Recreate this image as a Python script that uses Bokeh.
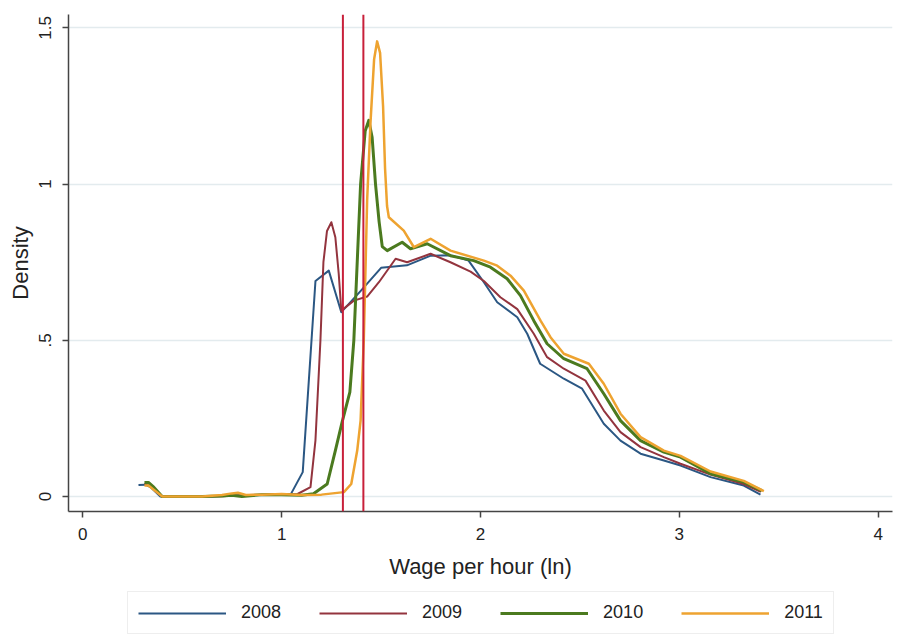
from bokeh.plotting import figure
from bokeh.models import Legend, LegendItem, Span, Range1d
from bokeh.layouts import column
from bokeh.embed import file_html
from bokeh.resources import INLINE

# ---- data ----
years = ["2008", "2009", "2010", "2011"]

x2008 = [0.28, 0.315, 0.34, 0.39, 0.5, 0.6, 0.7, 0.75, 0.8, 0.9, 1.0, 1.045, 1.106, 1.17, 1.237,
         1.30, 1.40, 1.50, 1.63, 1.75, 1.85, 1.94, 2.017, 2.084, 2.185, 2.235, 2.30, 2.419, 2.511,
         2.62, 2.704, 2.805, 2.922, 3.006, 3.157, 3.324, 3.408]
d2008 = [0.037, 0.038, 0.03, 0.0, 0.0, 0.0, 0.002, 0.005, 0.003, 0.005, 0.006, 0.006, 0.078, 0.69,
         0.723, 0.59, 0.66, 0.732, 0.74, 0.771, 0.772, 0.755, 0.686, 0.622, 0.574, 0.521, 0.425,
         0.377, 0.345, 0.233, 0.179, 0.137, 0.115, 0.099, 0.062, 0.035, 0.006]

x2009 = [0.31, 0.33, 0.36, 0.40, 0.5, 0.6, 0.7, 0.8, 0.9, 1.0, 1.08, 1.145, 1.17, 1.195, 1.21,
         1.228, 1.25, 1.27, 1.287, 1.30, 1.363, 1.43, 1.489, 1.573, 1.631, 1.749, 1.849, 1.95,
         2.017, 2.1, 2.185, 2.268, 2.335, 2.419, 2.528, 2.62, 2.704, 2.805, 2.922, 3.006, 3.157,
         3.324, 3.41]
d2009 = [0.04, 0.042, 0.025, 0.0, 0.0, 0.0, 0.001, 0.004, 0.006, 0.007, 0.008, 0.03, 0.18, 0.50,
         0.75, 0.85, 0.878, 0.83, 0.713, 0.595, 0.627, 0.64, 0.686, 0.761, 0.75, 0.777, 0.75,
         0.72, 0.69, 0.638, 0.6, 0.521, 0.446, 0.409, 0.371, 0.275, 0.206, 0.158, 0.126, 0.105,
         0.07, 0.04, 0.015]

x2010 = [0.31, 0.33, 0.357, 0.399, 0.5, 0.6, 0.7, 0.75, 0.8, 0.9, 1.0, 1.1, 1.16, 1.229, 1.27,
         1.304, 1.343, 1.363, 1.397, 1.42, 1.438, 1.455, 1.472, 1.49, 1.506, 1.531, 1.606, 1.648,
         1.732, 1.849, 1.966, 2.05, 2.134, 2.201, 2.268, 2.335, 2.419, 2.536, 2.62, 2.704, 2.805,
         2.922, 3.006, 3.157, 3.324, 3.415]
d2010 = [0.045, 0.045, 0.03, 0.0, 0.0, 0.0, 0.002, 0.004, 0.0, 0.006, 0.006, 0.004, 0.009, 0.04,
         0.147, 0.238, 0.334, 0.5, 1.0, 1.17, 1.204, 1.15, 1.0, 0.88, 0.8, 0.787, 0.814, 0.793,
         0.809, 0.771, 0.755, 0.734, 0.697, 0.643, 0.563, 0.489, 0.441, 0.409, 0.329, 0.243,
         0.179, 0.142, 0.126, 0.073, 0.046, 0.019]

x2011 = [0.31, 0.33, 0.36, 0.40, 0.5, 0.6, 0.7, 0.75, 0.78, 0.82, 0.9, 1.0, 1.1, 1.2, 1.313, 1.35,
         1.38, 1.397, 1.413, 1.43, 1.447, 1.465, 1.48, 1.495, 1.51, 1.52, 1.53, 1.539, 1.614,
         1.665, 1.749, 1.849, 2.017, 2.084, 2.151, 2.218, 2.302, 2.352, 2.419, 2.545, 2.62, 2.704,
         2.805, 2.922, 3.006, 3.157, 3.324, 3.425]
d2011 = [0.035, 0.035, 0.02, 0.0, 0.0, 0.0, 0.005, 0.01, 0.012, 0.005, 0.006, 0.008, 0.005, 0.006,
         0.014, 0.04, 0.147, 0.243, 0.5, 0.95, 1.2, 1.40, 1.457, 1.42, 1.25, 1.05, 0.93, 0.894,
         0.851, 0.798, 0.825, 0.787, 0.755, 0.739, 0.707, 0.659, 0.563, 0.51, 0.457, 0.425,
         0.361, 0.265, 0.19, 0.147, 0.13, 0.08, 0.05, 0.017]

min_wage_lines = [1.308, 1.411]

x_ticks = [0, 1, 2, 3, 4]
y_ticks = [0, 0.5, 1, 1.5]
y_tick_labels = ["0", ".5", "1", "1.5"]

colors = ["#2b5783", "#93343e", "#4b7a1f", "#eea330"]
widths = [2.0, 2.0, 3.0, 2.5]
series_x = [x2008, x2009, x2010, x2011]
series_y = [d2008, d2009, d2010, d2011]

FONT = "Liberation Sans"

p = figure(width=894, height=585, output_backend="svg", toolbar_location=None,
           x_range=Range1d(-0.072, 4.072), y_range=Range1d(-0.048, 1.543),
           min_border_left=68, min_border_right=2, min_border_top=14, min_border_bottom=74,
           background_fill_color="white", border_fill_color="white")
p.outline_line_color = None
p.xgrid.visible = False
p.ygrid.grid_line_color = "#e3ebee"
p.ygrid.grid_line_width = 1.5

for ax in (p.xaxis, p.yaxis):
    ax.axis_line_color = "#444444"
    ax.axis_line_width = 1.5
    ax.major_tick_line_color = "#444444"
    ax.major_tick_line_width = 1.5
    ax.major_tick_out = 6
    ax.major_tick_in = 0
    ax.minor_tick_line_color = None
    ax.major_label_text_font = FONT
    ax.major_label_text_font_size = "17px"
    ax.major_label_text_color = "#222222"
    ax.axis_label_text_font = FONT
    ax.axis_label_text_font_size = "22px"
    ax.axis_label_text_font_style = "normal"
    ax.axis_label_text_color = "#222222"

p.xaxis.ticker = x_ticks
p.xaxis.major_label_standoff = 10
p.xaxis.axis_label = "Wage per hour (ln)"
p.xaxis.axis_label_standoff = 11

p.yaxis.ticker = y_ticks
p.yaxis.major_label_overrides = {t: lab for t, lab in zip(y_ticks, y_tick_labels)}
p.yaxis.major_label_orientation = "vertical"
p.yaxis.major_label_standoff = 11
p.yaxis.axis_label = "Density"
p.yaxis.axis_label_standoff = 4

for xs, ys, c, w in zip(series_x, series_y, colors, widths):
    p.line(xs, ys, line_color=c, line_width=w, line_join="round")

for xv in min_wage_lines:
    p.add_layout(Span(location=xv, dimension="height", line_color="#c8203a", line_width=2))

# ---- legend strip below the plot (its lines lie outside this strip's visible range) ----
lg = figure(width=894, height=50, output_backend="svg", toolbar_location=None,
            x_axis_location=None, y_axis_location=None,
            x_range=Range1d(-0.072, 4.072), y_range=Range1d(10, 11),
            min_border_left=68, min_border_right=2, min_border_top=0, min_border_bottom=0,
            background_fill_color="white", border_fill_color="white")
lg.outline_line_color = None
lg.grid.visible = False
items = []
for yname, xs, ys, c, w in zip(years, series_x, series_y, colors, widths):
    r = lg.line(xs, ys, line_color=c, line_width=w)
    items.append(LegendItem(label=yname, renderers=[r]))

legend = Legend(items=items, orientation="horizontal", location=(59, 1))
legend.glyph_width = 88
legend.glyph_height = 20
legend.label_height = 20
legend.label_standoff = 15
legend.spacing = 38
legend.padding = 10
legend.margin = 0
legend.label_text_font = FONT
legend.label_text_font_size = "18px"
legend.label_text_color = "#222222"
legend.border_line_color = "#dddddd"
legend.border_line_width = 1
legend.background_fill_color = "white"
lg.add_layout(legend, "center")

layout = column(p, lg, spacing=0)
open("out.html", "w").write(file_html(layout, INLINE))
